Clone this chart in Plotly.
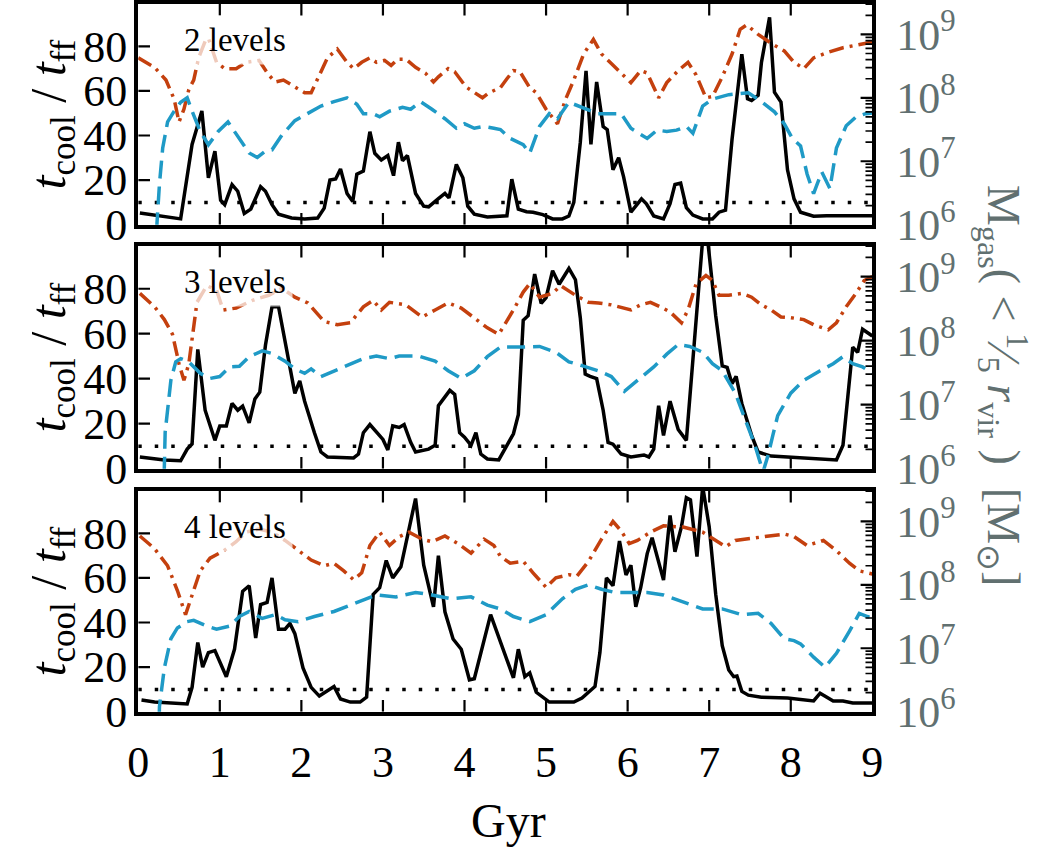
import numpy as np
import plotly.graph_objects as go

# ---------------- data ----------------
panel_labels = ["2 levels", "3 levels", "4 levels"]

# t_cool / t_ff (black solid)
p1_ratio_t = [0.02,0.52,0.66,0.78,0.86,0.94,1.01,1.06,1.15,1.22,1.30,1.38,1.50,1.56,1.64,1.72,1.88,2.04,2.2,2.28,2.35,2.42,2.48,2.56,2.63,2.68,2.76,2.84,2.90,2.98,3.06,3.13,3.19,3.24,3.30,3.40,3.50,3.56,3.68,3.76,3.81,3.90,3.98,4.04,4.12,4.28,4.52,4.58,4.66,4.76,4.84,4.96,5.08,5.2,5.28,5.34,5.42,5.49,5.55,5.62,5.70,5.75,5.82,5.89,5.95,6.04,6.17,6.23,6.32,6.44,6.52,6.58,6.65,6.72,6.80,6.92,7.04,7.12,7.2,7.28,7.40,7.47,7.52,7.60,7.64,7.74,7.80,7.88,7.96,8.04,8.12,8.28,8.44,9.0]
p1_ratio = [5.2,2.6,36,51,21,33,11,9,18,15,5,7,17,15,9,4.7,3,2.6,3,7.4,20,20.5,25,14,10.4,22.6,24,41.7,32,29,31,22,37,28.7,31,14,8.3,8,11.7,14,12,27,21,8.3,4.7,3.5,4,20.4,7,5.8,5.6,4.5,2.6,2.6,3.9,10,37,69,36,64,44,42.6,24.6,30,21.6,5.6,11.6,9.4,3.9,2.6,9.4,18,18.6,7.6,4.3,2.6,2.6,5.6,6.5,38.3,76.5,56.5,55.7,58,72.6,93,59.4,55,24.6,11.6,5.6,3.8,4,4]

p2_ratio_t = [0.02,0.32,0.52,0.6,0.66,0.73,0.82,0.94,1.0,1.08,1.15,1.22,1.28,1.36,1.43,1.49,1.56,1.64,1.72,1.84,1.92,1.98,2.04,2.16,2.24,2.32,2.64,2.7,2.76,2.84,2.92,3.0,3.06,3.12,3.2,3.26,3.34,3.4,3.56,3.64,3.68,3.82,3.88,3.94,4.0,4.08,4.14,4.2,4.28,4.42,4.52,4.6,4.66,4.72,4.78,4.86,4.94,5.0,5.08,5.16,5.28,5.36,5.42,5.48,5.54,5.62,5.7,5.76,5.82,5.92,6.04,6.2,6.26,6.32,6.38,6.44,6.52,6.62,6.72,6.82,6.92,6.98,7.08,7.16,7.22,7.28,7.33,7.4,7.52,7.6,7.76,8.56,8.64,8.76,8.82,8.88,8.94,9.0]
p2_ratio = [5.2,3.9,3.5,8.7,11,53,26,12.6,19,19,29,26,27.8,20.4,31,34,55,72,72,48,33.5,39,30,16,7.4,5.2,4.8,6.5,16,19.6,16,13,8.3,19,18.3,19.6,11.7,7.4,8.7,10.4,28,34.8,33,16,14,10.4,16,6.5,4.3,3.9,10.4,15.5,24,66,68,86.5,73.5,76,88,82,89,84,67,42,41,40,26,11.7,10.9,6.5,5.2,6.1,5.2,8.7,28,14.8,30,17.4,12.6,59.6,102,102,68,45.7,45,37.8,41,29,14.8,7.4,5.6,3.9,10.4,54,51.7,62,60.4,59]

p3_ratio_t = [0.04,0.2,0.6,0.66,0.73,0.79,0.86,0.94,1.08,1.18,1.28,1.36,1.44,1.5,1.58,1.64,1.72,1.8,1.86,1.92,2.02,2.12,2.22,2.3,2.4,2.48,2.6,2.72,2.8,2.88,2.96,3.04,3.12,3.22,3.32,3.4,3.5,3.62,3.68,3.76,3.86,3.96,4.06,4.12,4.32,4.44,4.6,4.66,4.74,4.8,4.88,5.04,5.34,5.44,5.6,5.66,5.74,5.82,5.9,5.98,6.04,6.1,6.16,6.24,6.3,6.44,6.52,6.58,6.66,6.72,6.77,6.85,6.92,7.0,7.08,7.16,7.24,7.3,7.34,7.4,7.48,7.64,7.96,8.28,8.36,8.52,8.64,8.76,9.0]
p3_ratio = [5.2,4.3,3.5,10.9,31,20,26.5,27.4,15.7,28,54,56.5,33,48,49,60,37,37,39.6,35,19.6,10.9,7,9.1,11.3,5.7,4.3,4.3,6.5,52.6,55.6,67.8,60,65,81.7,95.6,65.7,47,70,44.8,32.6,28,14.3,14.8,43.5,31,15.2,28,15.7,17.4,8.7,4.3,4.3,6.1,11.3,26.5,60,56.5,76.5,61.3,65.7,47,55.6,70.9,78,59,88,71.7,83,96,95,69.6,101,83,52.6,29.6,18.7,15.7,16,9.1,7.4,6.5,6.1,4.8,8.3,4.8,4.8,3.9,3.9]

# log10 gas mass (red dash-dot, right axis)
p1_gas_t = [0,0.2,0.34,0.44,0.5,0.56,0.62,0.68,0.74,0.82,0.86,0.96,1.06,1.2,1.32,1.48,1.6,1.68,1.78,1.92,2.04,2.12,2.22,2.32,2.44,2.56,2.64,2.74,2.84,2.92,3.02,3.1,3.18,3.28,3.4,3.52,3.62,3.68,3.8,3.88,4.02,4.12,4.22,4.3,4.44,4.52,4.6,4.68,4.8,4.88,5.0,5.14,5.24,5.34,5.46,5.58,5.68,5.8,5.92,6.04,6.16,6.24,6.38,6.48,6.62,6.74,6.84,6.96,7.04,7.16,7.28,7.38,7.46,7.6,7.76,7.92,8.04,8.16,8.28,8.44,8.64,8.92,9.0]
p1_log_gas = [8.63,8.48,8.28,7.98,7.62,7.82,8.13,8.28,8.63,8.89,8.94,8.56,8.46,8.46,8.56,8.59,8.36,8.25,8.28,8.17,8.08,8.08,8.36,8.63,8.77,8.56,8.46,8.56,8.63,8.56,8.59,8.51,8.61,8.61,8.48,8.39,8.25,8.33,8.46,8.41,8.17,8.08,8.0,8.08,8.16,8.3,8.43,8.41,8.16,8.08,7.82,7.59,7.98,8.28,8.69,8.92,8.69,8.54,8.39,8.24,8.43,8.39,8.0,8.24,8.43,8.56,8.36,8.0,8.02,8.33,8.69,9.08,9.15,9.0,8.86,8.74,8.56,8.46,8.63,8.71,8.79,8.86,8.88]

p2_gas_t = [0.02,0.2,0.32,0.42,0.5,0.56,0.62,0.66,0.72,0.84,0.96,1.04,1.2,1.4,1.6,1.76,1.92,2.08,2.28,2.44,2.6,2.76,2.88,2.98,3.08,3.28,3.48,3.64,3.8,3.96,4.12,4.28,4.42,4.52,4.6,4.72,4.8,4.92,5.08,5.18,5.36,5.52,5.64,5.8,5.94,6.04,6.16,6.28,6.4,6.52,6.66,6.74,6.84,6.96,7.04,7.12,7.24,7.4,7.52,7.64,7.76,7.88,8.0,8.16,8.28,8.46,8.56,8.68,8.8,8.9,9.0]
p2_log_gas = [8.74,8.53,8.33,8.1,7.64,7.38,7.64,8.05,8.6,8.86,8.79,8.48,8.51,8.63,8.71,8.82,8.68,8.59,8.3,8.25,8.28,8.53,8.63,8.48,8.6,8.56,8.37,8.48,8.59,8.51,8.36,8.2,8.1,8.3,8.48,8.76,8.89,8.68,8.74,8.86,8.71,8.6,8.59,8.56,8.51,8.48,8.56,8.6,8.53,8.45,8.28,8.48,8.89,9.02,8.94,8.71,8.71,8.74,8.68,8.56,8.48,8.37,8.36,8.33,8.25,8.17,8.28,8.53,8.74,8.94,9.0]

p3_gas_t = [0.02,0.2,0.36,0.48,0.58,0.66,0.76,0.88,1.04,1.2,1.32,1.48,1.64,1.8,1.96,2.12,2.28,2.4,2.52,2.64,2.74,2.84,2.96,3.08,3.2,3.32,3.48,3.6,3.76,3.92,4.08,4.24,4.36,4.44,4.56,4.72,4.84,5.0,5.12,5.28,5.38,5.52,5.68,5.82,5.92,6.02,6.12,6.28,6.44,6.68,6.92,7.08,7.2,7.32,7.64,7.92,8.04,8.2,8.4,8.56,8.72,8.84,8.94,9.0]
p3_log_gas = [8.77,8.57,8.3,7.91,7.53,7.85,8.22,8.42,8.53,8.68,8.83,8.88,8.83,8.7,8.54,8.39,8.3,8.34,8.22,8.08,8.19,8.62,8.83,8.62,8.76,8.83,8.72,8.68,8.77,8.65,8.5,8.72,8.62,8.45,8.34,8.37,8.19,7.96,8.11,8.16,8.14,8.37,8.72,9.0,8.85,8.65,8.7,8.83,8.93,8.91,8.83,8.7,8.6,8.7,8.76,8.8,8.76,8.62,8.7,8.54,8.34,8.22,8.19,8.17]

# log10 mass of the second gas phase (blue dashed, right axis)
p1_phase_t = [0.22,0.23,0.26,0.3,0.36,0.44,0.52,0.6,0.66,0.76,0.86,0.98,1.1,1.24,1.36,1.46,1.56,1.64,1.76,1.92,2.08,2.24,2.4,2.56,2.68,2.76,2.88,2.96,3.08,3.24,3.34,3.46,3.6,3.76,3.9,4.0,4.12,4.24,4.36,4.44,4.56,4.72,4.8,4.92,5.04,5.14,5.28,5.4,5.5,5.64,5.8,5.92,6.04,6.24,6.36,6.48,6.6,6.72,6.8,6.92,7.04,7.24,7.48,7.64,7.8,7.92,8.02,8.12,8.2,8.28,8.38,8.48,8.56,8.68,8.8,8.92,9.0]
p1_log_phase = [5.5,6.03,6.64,7.21,7.62,7.79,7.93,8.0,7.79,7.47,7.26,7.47,7.62,7.36,7.13,7.06,7.16,7.18,7.41,7.64,7.75,7.87,7.94,8.0,7.9,7.75,7.75,7.7,7.79,7.85,7.82,7.94,7.82,7.67,7.52,7.59,7.52,7.55,7.52,7.5,7.36,7.26,7.13,7.55,7.75,7.67,7.93,7.87,7.82,7.75,7.75,7.75,7.52,7.36,7.49,7.47,7.49,7.55,7.44,7.87,7.98,8.05,8.08,7.94,7.78,7.59,7.36,7.24,6.8,6.49,6.83,6.57,7.21,7.56,7.7,7.75,7.76]

p2_phase_t = [0.31,0.33,0.4,0.46,0.52,0.62,0.76,0.88,1.0,1.12,1.24,1.36,1.52,1.64,1.8,1.92,2.04,2.12,2.24,2.4,2.56,2.76,2.92,3.08,3.2,3.44,3.64,3.8,3.96,4.12,4.28,4.44,4.68,4.92,5.12,5.28,5.44,5.64,5.8,5.96,6.12,6.32,6.48,6.62,6.76,6.92,7.04,7.16,7.32,7.44,7.56,7.66,7.72,7.78,7.84,8.0,8.16,8.36,8.52,8.64,8.76,8.88,9.0]
p2_log_phase = [5.5,6.57,7.38,7.67,7.72,7.67,7.49,7.41,7.44,7.59,7.6,7.75,7.84,7.8,7.68,7.56,7.49,7.56,7.44,7.53,7.61,7.72,7.76,7.72,7.76,7.76,7.68,7.53,7.41,7.53,7.75,7.9,7.9,7.91,7.82,7.67,7.61,7.53,7.44,7.21,7.38,7.59,7.79,7.94,7.91,7.82,7.64,7.53,7.18,6.77,6.37,5.95,6.2,6.52,6.83,7.18,7.38,7.53,7.64,7.75,7.64,7.59,7.5]

p3_phase_t = [0.25,0.26,0.32,0.4,0.48,0.6,0.68,0.84,0.96,1.12,1.24,1.36,1.52,1.68,1.8,1.96,2.16,2.4,2.6,2.76,2.92,3.16,3.4,3.6,3.84,4.08,4.28,4.44,4.6,4.8,5.0,5.2,5.36,5.52,5.68,5.84,6.04,6.24,6.44,6.68,6.92,7.16,7.4,7.6,7.76,7.92,8.04,8.12,8.28,8.42,8.56,8.72,8.84,8.94,9.0]
p3_log_phase = [5.5,6.08,6.69,7.15,7.32,7.42,7.44,7.35,7.3,7.35,7.5,7.58,7.47,7.53,7.45,7.42,7.5,7.58,7.68,7.76,7.84,7.81,7.88,7.84,7.78,7.81,7.68,7.62,7.5,7.42,7.53,7.78,7.93,8.0,7.93,7.88,7.88,7.88,7.84,7.73,7.62,7.62,7.53,7.55,7.39,7.15,7.12,7.07,6.86,6.7,6.92,7.27,7.55,7.5,7.48]

threshold = 10
x_ticks = [0, 1, 2, 3, 4, 5, 6, 7, 8, 9]
left_ticks = [0, 20, 40, 60, 80]
right_ticks = [1e6, 1e7, 1e8, 1e9]
right_tick_text = ["10<sup>6</sup>", "10<sup>7</sup>", "10<sup>8</sup>", "10<sup>9</sup>"]
right_minor_ticks = [m * 10 ** e for e in (6, 7, 8, 9) for m in range(2, 10)]

# ---------------- style / layout ----------------
W, H = 1037, 849
FONT = "Liberation Serif"
GREY = "#617070"
RED = "#c4400e"
BLUE = "#1f9ac6"

x_dom = [130 / W, 880 / W]
panel_px = [(2, 230), (252, 482), (505, 733)]
y_doms = [[1 - b / H, 1 - t / H] for t, b in panel_px]
LOG_RANGE = [6, 9.48]
LIN_RANGE = [0, 99]
X_RANGE = [0, 9]
MAJ_LEN, MIN_LEN = 12, 7           # tick lengths in px
PLOT_W = x_dom[1] * W - x_dom[0] * W

panels = [
    (p1_ratio_t, p1_ratio, p1_gas_t, p1_log_gas, p1_phase_t, p1_log_phase),
    (p2_ratio_t, p2_ratio, p2_gas_t, p2_log_gas, p2_phase_t, p2_log_phase),
    (p3_ratio_t, p3_ratio, p3_gas_t, p3_log_gas, p3_phase_t, p3_log_phase),
]

fig = go.Figure()
layout = dict(
    width=W, height=H, autosize=False,
    margin=dict(l=0, r=0, t=0, b=0),
    paper_bgcolor="white", plot_bgcolor="white",
    showlegend=False,
    font=dict(family=FONT, size=44, color="black"),
)
annotations = []


def ghost(xa, ya, x, y):
    fig.add_trace(go.Scatter(x=[x], y=[y], mode="markers", marker=dict(opacity=0, size=1),
                             xaxis=xa, yaxis=ya, hoverinfo="skip", showlegend=False))


def segments(pairs):
    """Flatten [(x0, x1, y0, y1), ...] into None-separated line lists."""
    xs, ys = [], []
    for x0, x1, y0, y1 in pairs:
        xs += [x0, x1, None]
        ys += [y0, y1, None]
    return xs, ys


for i, (rt, rv, gt, gv, pt, pv) in enumerate(panels):
    xa = "x" if i == 0 else f"x{i+1}"
    xkey = "xaxis" if i == 0 else f"xaxis{i+1}"
    ya_l = "y" if i == 0 else f"y{2*i+1}"
    ylkey = "yaxis" if i == 0 else f"yaxis{2*i+1}"
    ya_r, yrkey = f"y{2*i+2}", f"yaxis{2*i+2}"
    ya_ll, yllkey = f"y{10+i}", f"yaxis{10+i}"
    ya_rl, yrlkey = f"y{13+i}", f"yaxis{13+i}"
    t, b = panel_px[i]
    plot_h = b - t

    fig.add_trace(go.Scatter(x=gt, y=10 ** np.array(gv), mode="lines",
                             line=dict(color=RED, width=3.5, dash="15px,6px,3px,6px"),
                             xaxis=xa, yaxis=ya_r))
    fig.add_trace(go.Scatter(x=pt, y=10 ** np.array(pv), mode="lines",
                             line=dict(color=BLUE, width=3.5, dash="18px,8px"),
                             xaxis=xa, yaxis=ya_r))
    fig.add_trace(go.Scatter(x=[0, 9], y=[threshold, threshold], mode="lines",
                             line=dict(color="black", width=3.5, dash="3.5px,13px"),
                             xaxis=xa, yaxis=ya_l))
    fig.add_trace(go.Scatter(x=rt, y=rv, mode="lines",
                             line=dict(color="black", width=3.5),
                             xaxis=xa, yaxis=ya_l))

    # ---- tick marks as line traces, positioned through the axes' scales ----
    lin_per_px = (LIN_RANGE[1] - LIN_RANGE[0]) / plot_h
    x_per_px = (X_RANGE[1] - X_RANGE[0]) / PLOT_W
    maj_x = [(v, v, LIN_RANGE[0], LIN_RANGE[0] + MAJ_LEN * lin_per_px)
             for v in x_ticks if X_RANGE[0] < v < X_RANGE[1]]
    maj_x += [(v, v, LIN_RANGE[1], LIN_RANGE[1] - MAJ_LEN * lin_per_px)
              for v in x_ticks if X_RANGE[0] < v < X_RANGE[1]]
    maj_x += [(X_RANGE[0], X_RANGE[0] + MAJ_LEN * x_per_px, v, v)
              for v in left_ticks if LIN_RANGE[0] < v < LIN_RANGE[1]]
    xs, ys = segments(maj_x)
    fig.add_trace(go.Scatter(x=xs, y=ys, mode="lines", line=dict(color="black", width=2.2),
                             xaxis=xa, yaxis=ya_l, hoverinfo="skip", connectgaps=False))
    rmaj = [(X_RANGE[1], X_RANGE[1] - MAJ_LEN * x_per_px, v, v)
            for v in right_ticks if LOG_RANGE[0] < np.log10(v) < LOG_RANGE[1]]
    xs, ys = segments(rmaj)
    fig.add_trace(go.Scatter(x=xs, y=ys, mode="lines", line=dict(color="black", width=2.2),
                             xaxis=xa, yaxis=ya_r, hoverinfo="skip", connectgaps=False))
    rmin = [(X_RANGE[1], X_RANGE[1] - MIN_LEN * x_per_px, v, v)
            for v in right_minor_ticks if LOG_RANGE[0] < np.log10(v) < LOG_RANGE[1]]
    xs, ys = segments(rmin)
    fig.add_trace(go.Scatter(x=xs, y=ys, mode="lines", line=dict(color="black", width=1.7),
                             xaxis=xa, yaxis=ya_r, hoverinfo="skip", connectgaps=False))

    ghost(xa, ya_ll, 4.5, 50)
    ghost(xa, ya_rl, 4.5, 1e7)

    layout[xkey] = dict(
        domain=x_dom, range=X_RANGE, anchor=ya_l,
        showline=True, linewidth=4, linecolor="black", mirror=True,
        ticks="", tickvals=x_ticks, showticklabels=False,
        showgrid=False, zeroline=False,
    )
    layout[ylkey] = dict(
        domain=y_doms[i], range=LIN_RANGE, anchor=xa,
        showline=True, linewidth=4, linecolor="black",
        ticks="", tickvals=left_ticks, showticklabels=False,
        showgrid=False, zeroline=False,
    )
    layout[yrkey] = dict(
        type="log", range=LOG_RANGE, overlaying=ya_l, side="right", anchor=xa,
        showline=True, linewidth=4, linecolor="black",
        ticks="", tickvals=right_ticks, showticklabels=False,
        showgrid=False, zeroline=False,
    )
    layout[yllkey] = dict(
        range=LIN_RANGE, overlaying=ya_l, side="left", anchor=xa,
        showline=False, ticks="", tickvals=left_ticks, showgrid=False, zeroline=False,
        tickfont=dict(family=FONT, size=44, color="black"), ticklabelstandoff=10,
    )
    layout[yrlkey] = dict(
        type="log", range=LOG_RANGE, overlaying=ya_l, side="right", anchor=xa,
        showline=False, ticks="", tickvals=right_ticks, ticktext=right_tick_text,
        showgrid=False, zeroline=False,
        tickfont=dict(family=FONT, size=44, color=GREY), ticklabelstandoff=23,
    )

    annotations.append(dict(
        xref=xa, yref=ya_l, x=0.47, y=83, xanchor="left", yanchor="middle",
        text=panel_labels[i], showarrow=False,
        font=dict(family=FONT, size=33, color="black"),
        bgcolor="rgba(255,255,255,0.72)", borderpad=6,
    ))
    annotations.append(dict(
        xref="paper", yref="paper", x=42 / W, y=1 - (t + b) / 2 / H,
        xanchor="center", yanchor="middle", textangle=-90,
        text="<i>t</i><sub>cool</sub> / <i>t</i><sub>ff</sub>", showarrow=False,
        font=dict(family=FONT, size=50, color="black"),
    ))

# bottom tick labels (label-only x axis over the last panel)
layout["xaxis4"] = dict(
    range=X_RANGE, overlaying="x3", anchor="y5", side="bottom",
    showline=False, ticks="", tickvals=x_ticks, showgrid=False, zeroline=False,
    tickfont=dict(family=FONT, size=44, color="black"), ticklabelstandoff=20,
)
ghost("x4", "y5", 4.5, 50)

annotations.append(dict(
    xref="paper", yref="paper", x=508 / W, y=1 - 845 / H,
    xanchor="center", yanchor="middle", text="Gyr", showarrow=False,
    font=dict(family=FONT, size=48, color="black"),
))
annotations.append(dict(
    xref="paper", yref="paper", x=1014 / W, y=1 - 397 / H,
    xanchor="center", yanchor="middle", textangle=90,
    text="M<sub>gas</sub>( < <sup>1</sup>\u2044<sub>5</sub> <i>r</i><sub>vir</sub> )  [M<sub>\u2299</sub>]",
    showarrow=False, font=dict(family=FONT, size=46, color=GREY),
))
layout["annotations"] = annotations
fig.update_layout(**layout)
fig.write_html("out.html")
